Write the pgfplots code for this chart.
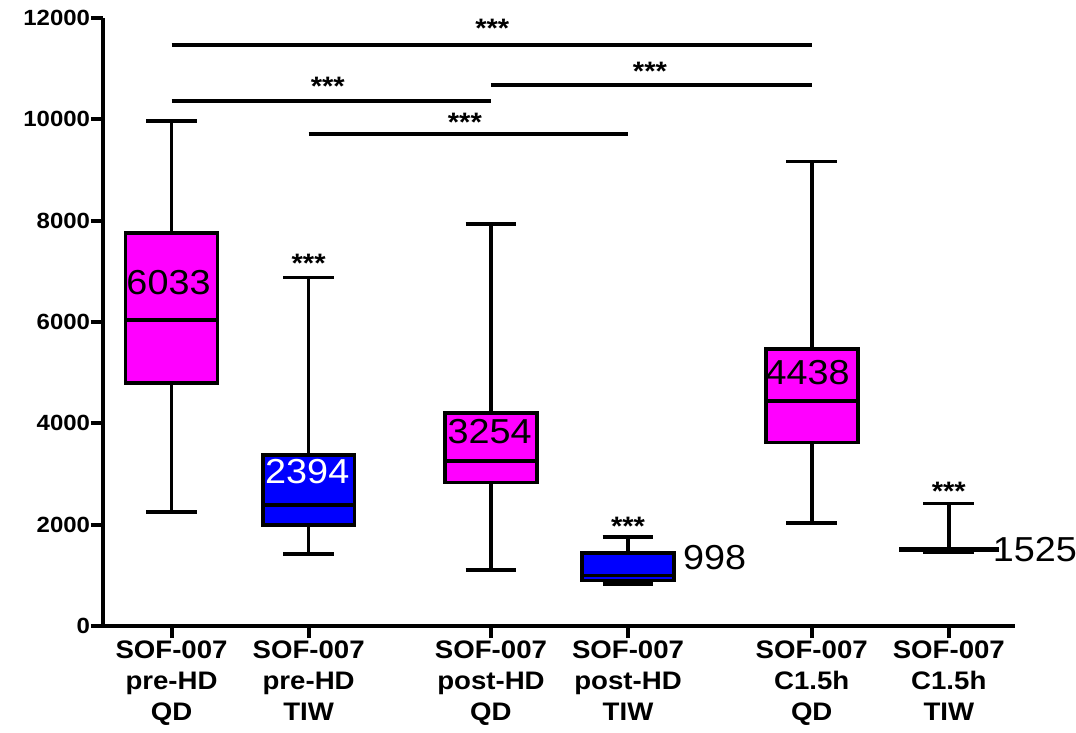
\documentclass[border=0pt]{standalone}
\usepackage{pgfplots}
\pgfplotsset{compat=1.18}
\usepackage{fontspec}
\setmainfont[FakeStretch=1.09]{Liberation Sans}
\definecolor{mag}{RGB}{255,0,255}
\definecolor{blu}{RGB}{0,0,255}
% whiskers: position, cap left, cap right, lower whisker, lower quartile, upper quartile, upper whisker
\newcommand\wh[7]{%
\addplot[black, line width=2.8pt, forget plot] coordinates {(#1,#4) (#1,#5)};
\addplot[black, line width=2.8pt, forget plot] coordinates {(#1,#6) (#1,#7)};
\addplot[black, line width=2.8pt, forget plot] coordinates {(#2,#4) (#3,#4)};
\addplot[black, line width=2.8pt, forget plot] coordinates {(#2,#7) (#3,#7)};
}
% box: left, right, lower quartile, median, upper quartile, colour
\newcommand\bxx[6]{%
\addplot[fill=#6, draw=black, line width=2.8pt, forget plot] coordinates {(#1,#3) (#2,#3) (#2,#5) (#1,#5)} --cycle;
\addplot[black, line width=2.8pt, forget plot] coordinates {(#1,#4) (#2,#4)};
}
\begin{document}
\begin{tikzpicture}
\begin{axis}[
  name=ax,
  scale only axis, width=684pt, height=456pt,
  xmin=0.5, xmax=7.153, ymin=0, ymax=12000,
  axis x line*=bottom, axis y line*=left,
  axis line style={line width=3.4pt},
  every tick/.style={black, line width=3pt},
  tick align=outside, major tick length=9pt,
  ytick={0,2000,4000,6000,8000,10000,12000},
  yticklabel style={font=\bfseries\fontsize{16.5}{18}\selectfont, inner xsep=0.5pt},
  /pgf/number format/assume math mode=true,
  /pgf/number format/1000 sep={},
  scaled y ticks=false,
  xtick={1,2,3.33,4.33,5.67,6.67},
  xticklabels={SOF-007\\pre-HD\\QD, SOF-007\\pre-HD\\TIW, SOF-007\\post-HD\\QD, SOF-007\\post-HD\\TIW, SOF-007\\C1.5h\\QD, SOF-007\\C1.5h\\TIW},
  xticklabel style={align=center, font=\bfseries\fontsize{19}{23.25}\selectfont, inner ysep=2pt},
  clip=false,
]
% pre-HD QD
\wh{1}{0.815}{1.185}{2250}{4790}{7760}{9970}
\bxx{0.665}{1.335}{4790}{6033}{7760}{mag}
% pre-HD TIW
\wh{2}{1.815}{2.185}{1420}{1990}{3380}{6880}
\bxx{1.665}{2.335}{1990}{2394}{3380}{blu}
% post-HD QD
\wh{3.33}{3.145}{3.515}{1110}{2830}{4200}{7930}
\bxx{2.995}{3.665}{2830}{3254}{4200}{mag}
% post-HD TIW
\wh{4.33}{4.145}{4.515}{830}{900}{1440}{1760}
\bxx{3.995}{4.665}{900}{998}{1440}{blu}
% C1.5h QD
\wh{5.67}{5.485}{5.855}{2030}{3620}{5460}{9170}
\bxx{5.335}{6.005}{3620}{4438}{5460}{mag}
% C1.5h TIW
\wh{6.67}{6.485}{6.855}{1460}{1490}{1525}{2420}
\bxx{6.32}{7.02}{1490}{1525}{1525}{blu}
% significance lines
\addplot[black, line width=2.8pt] coordinates {(1,11470) (5.67,11470)};
\addplot[black, line width=2.8pt] coordinates {(1,10360) (3.33,10360)};
\addplot[black, line width=2.8pt] coordinates {(3.33,10680) (5.67,10680)};
\addplot[black, line width=2.8pt] coordinates {(2,9710) (4.33,9710)};
% stars
\tikzset{star/.style={font=\bfseries\fontsize{20}{20}\selectfont, inner sep=0pt}}
\node[star] at (axis cs:3.34,11800) {***};
\node[star] at (axis cs:2.14,10660) {***};
\node[star] at (axis cs:4.49,10950) {***};
\node[star] at (axis cs:3.14,9950) {***};
\node[star] at (axis cs:2,7160) {***};
\node[star] at (axis cs:4.33,1970) {***};
\node[star] at (axis cs:6.67,2660) {***};
% value labels
\tikzset{val/.style={font=\fontsize{26}{26}\selectfont, inner sep=0pt}}
\node[val] at (axis cs:0.978,6779) {6033};
\node[val, white] at (axis cs:1.99,3039) {2394};
\node[val] at (axis cs:3.32,3829) {3254};
\node[val] at (axis cs:5.64,4993) {4438};
\node[val, anchor=west] at (axis cs:4.73,1342) {998};
\node[val, anchor=west] at (axis cs:6.99,1506) {1525};
\end{axis}
\pgfresetboundingbox
\path ([xshift=-77.25pt,yshift=-79.5pt]ax.south west) rectangle ([xshift=45.75pt,yshift=13.5pt]ax.north east);
\end{tikzpicture}
\end{document}
